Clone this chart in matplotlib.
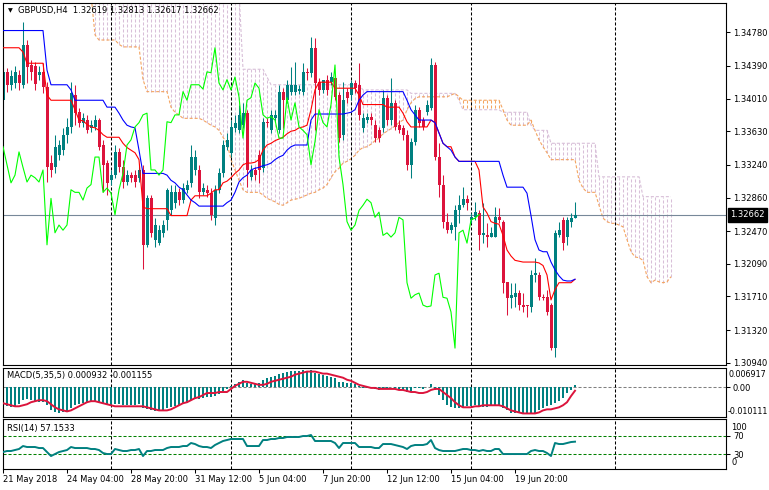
import numpy as np
import matplotlib.pyplot as plt
from matplotlib.transforms import blended_transform_factory

plt.rcParams['font.family'] = ['DejaVu Sans']
plt.rcParams['lines.scale_dashes'] = False

# GBPUSD H4 candles, oldest first (bar 0 is cut by the left border)
opens = [1.3399, 1.3432, 1.3417, 1.3419, 1.3428, 1.3417, 1.3463, 1.3440, 1.3439, 1.3428,
         1.3432, 1.3414, 1.3326, 1.3321, 1.3335, 1.3341, 1.3359, 1.3368, 1.3405, 1.3385,
         1.3373, 1.3376, 1.3367, 1.3368, 1.3376, 1.3347, 1.3326, 1.3306, 1.3312, 1.3339,
         1.3321, 1.3304, 1.3312, 1.3312, 1.3309, 1.3318, 1.3231, 1.3285, 1.3237, 1.3233,
         1.3245, 1.3260, 1.3271, 1.3280, 1.3292, 1.3283, 1.3295, 1.3303, 1.3318, 1.3318,
         1.3292, 1.3295, 1.3291, 1.3262, 1.3295, 1.3314, 1.3345, 1.3338, 1.3367, 1.3364,
         1.3370, 1.3384, 1.3310, 1.3318, 1.3335, 1.3320, 1.3374, 1.3364, 1.3378, 1.3364,
         1.3409, 1.3399, 1.3409, 1.3409, 1.3410, 1.3409, 1.3432, 1.3431, 1.3460, 1.3420,
         1.3411, 1.3423, 1.3420, 1.3425, 1.3405, 1.3359, 1.3409, 1.3405, 1.3419, 1.3417,
         1.3367, 1.3376, 1.3380, 1.3370, 1.3364, 1.3367, 1.3402, 1.3376, 1.3396, 1.3370,
         1.3367, 1.3359, 1.3324, 1.3351, 1.3388, 1.3376, 1.3385, 1.3390, 1.3440, 1.3333,
         1.3301, 1.3258, 1.3248, 1.3252, 1.3271, 1.3277, 1.3284, 1.3260, 1.3263, 1.3268,
         1.3242, 1.3242, 1.3240, 1.3240, 1.3263, 1.3258, 1.3188, 1.3169, 1.3170, 1.3175,
         1.3161, 1.3161, 1.3159, 1.3196, 1.3196, 1.3170, 1.3170, 1.3161, 1.3111, 1.3242,
         1.3260, 1.3240, 1.3258, 1.32619]
highs = [1.3436, 1.3436, 1.3434, 1.3439, 1.3434, 1.3490, 1.3469, 1.3446, 1.3443, 1.3439,
         1.3442, 1.3420, 1.3335, 1.3359, 1.3353, 1.3367, 1.3378, 1.3420, 1.3417, 1.3390,
         1.3384, 1.3382, 1.3376, 1.3382, 1.3378, 1.3353, 1.3330, 1.3318, 1.3347, 1.3344,
         1.3330, 1.3318, 1.3316, 1.3318, 1.3324, 1.3324, 1.3289, 1.3289, 1.3262, 1.3254,
         1.3260, 1.3297, 1.3301, 1.3301, 1.3297, 1.3303, 1.3306, 1.3347, 1.3341, 1.3324,
         1.3303, 1.3301, 1.3297, 1.3301, 1.3320, 1.3353, 1.3361, 1.3376, 1.3382, 1.3394,
         1.3396, 1.3388, 1.3324, 1.3321, 1.3341, 1.3378, 1.3378, 1.3388, 1.3388, 1.3417,
         1.3413, 1.3423, 1.3438, 1.3443, 1.3417, 1.3442, 1.3436, 1.3473, 1.3471, 1.3425,
         1.3423, 1.3428, 1.3432, 1.3428, 1.3409, 1.3420, 1.3413, 1.3423, 1.3423, 1.3442,
         1.3384, 1.3384, 1.3384, 1.3376, 1.3368, 1.3411, 1.3405, 1.3425, 1.3399, 1.3376,
         1.3370, 1.3364, 1.3355, 1.3394, 1.3391, 1.3380, 1.3399, 1.3448, 1.3443, 1.3349,
         1.3312, 1.3268, 1.3258, 1.3277, 1.3289, 1.3298, 1.3289, 1.3268, 1.3281, 1.3271,
         1.3280, 1.3256, 1.3252, 1.3275, 1.3274, 1.3260, 1.3188, 1.3187, 1.3187, 1.3179,
         1.3175, 1.3161, 1.3202, 1.3216, 1.3199, 1.3174, 1.3179, 1.3163, 1.3248, 1.3258,
         1.3263, 1.3263, 1.3268, 1.32813]
lows = [1.3390, 1.3409, 1.3411, 1.3413, 1.3411, 1.3413, 1.3419, 1.3423, 1.3411, 1.3423,
        1.3407, 1.3304, 1.3310, 1.3314, 1.3330, 1.3335, 1.3349, 1.3361, 1.3370, 1.3368,
        1.3368, 1.3361, 1.3362, 1.3364, 1.3341, 1.3292, 1.3289, 1.3301, 1.3309, 1.3316,
        1.3297, 1.3301, 1.3304, 1.3298, 1.3304, 1.3203, 1.3229, 1.3240, 1.3229, 1.3231,
        1.3240, 1.3248, 1.3266, 1.3274, 1.3277, 1.3280, 1.3291, 1.3298, 1.3312, 1.3285,
        1.3289, 1.3287, 1.3260, 1.3254, 1.3291, 1.3310, 1.3341, 1.3333, 1.3362, 1.3361,
        1.3367, 1.3298, 1.3306, 1.3306, 1.3303, 1.3316, 1.3368, 1.3361, 1.3374, 1.3361,
        1.3367, 1.3396, 1.3405, 1.3405, 1.3406, 1.3405, 1.3423, 1.3426, 1.3364, 1.3405,
        1.3407, 1.3405, 1.3417, 1.3399, 1.3351, 1.3353, 1.3396, 1.3399, 1.3407, 1.3376,
        1.3362, 1.3373, 1.3370, 1.3351, 1.3351, 1.3362, 1.3370, 1.3370, 1.3364, 1.3361,
        1.3353, 1.3318, 1.3309, 1.3347, 1.3368, 1.3364, 1.3382, 1.3388, 1.3330, 1.3287,
        1.3251, 1.3245, 1.3245, 1.3237, 1.3256, 1.3275, 1.3271, 1.3256, 1.3260, 1.3225,
        1.3233, 1.3229, 1.3240, 1.3240, 1.3256, 1.3175, 1.3150, 1.3158, 1.3159, 1.3155,
        1.3153, 1.3147, 1.3153, 1.3188, 1.3167, 1.3167, 1.3150, 1.3109, 1.3101, 1.3240,
        1.3225, 1.3231, 1.3252, 1.32617]
closes = [1.3432, 1.3417, 1.3427, 1.3432, 1.3419, 1.3463, 1.3438, 1.3432, 1.3418, 1.3432,
          1.3414, 1.3321, 1.3318, 1.3345, 1.3347, 1.3359, 1.3368, 1.3407, 1.3384, 1.3373,
          1.3378, 1.3364, 1.3370, 1.3376, 1.3345, 1.3324, 1.3303, 1.3312, 1.3339, 1.3321,
          1.3304, 1.3312, 1.3309, 1.3304, 1.3318, 1.3231, 1.3285, 1.3245, 1.3254, 1.3248,
          1.3254, 1.3295, 1.3292, 1.3292, 1.3283, 1.3297, 1.3301, 1.3333, 1.3333, 1.3292,
          1.3297, 1.3291, 1.3266, 1.3295, 1.3314, 1.3347, 1.3353, 1.3368, 1.3373, 1.3382,
          1.3384, 1.3318, 1.3318, 1.3312, 1.3318, 1.3374, 1.3373, 1.3382, 1.3382, 1.3409,
          1.3399, 1.3417, 1.3417, 1.3417, 1.3412, 1.3432, 1.3431, 1.3460, 1.3419, 1.3411,
          1.3423, 1.3411, 1.3426, 1.3403, 1.3355, 1.3399, 1.3402, 1.3419, 1.3413, 1.3382,
          1.3378, 1.3380, 1.3376, 1.3355, 1.3355, 1.3402, 1.3376, 1.3396, 1.3368, 1.3364,
          1.3359, 1.3324, 1.3351, 1.3388, 1.3373, 1.3368, 1.3394, 1.3440, 1.3333, 1.3301,
          1.3258, 1.3248, 1.3254, 1.3271, 1.3277, 1.3284, 1.3280, 1.3263, 1.3269, 1.3242,
          1.3245, 1.3240, 1.3245, 1.3263, 1.3260, 1.3187, 1.3169, 1.3173, 1.3175, 1.3161,
          1.3159, 1.3160, 1.3196, 1.3198, 1.3170, 1.3169, 1.3153, 1.3111, 1.3245, 1.3248,
          1.3233, 1.3260, 1.3262, 1.32662]

# Ichimoku lines as (value, number of bars) runs
tenkan_runs = [(1.3460, 5), (1.3455, 1), (1.3442, 5), (1.3405, 1), (1.3399, 6), (1.3388, 1),
               (1.3376, 1), (1.3375, 1), (1.3371, 1), (1.3368, 1), (1.3367, 1), (1.3364, 1),
               (1.3359, 1), (1.3356, 4), (1.3349, 1), (1.3344, 1), (1.3341, 1), (1.3338, 1),
               (1.3330, 1), (1.3275, 1), (1.3273, 6), (1.3265, 5), (1.3283, 1), (1.3288, 4),
               (1.3291, 1), (1.3295, 2), (1.3303, 1), (1.3305, 1), (1.3309, 1), (1.3314, 1),
               (1.3318, 1), (1.3324, 1), (1.3326, 2), (1.3327, 1), (1.3330, 1), (1.3341, 1),
               (1.3347, 1), (1.3349, 1), (1.3352, 1), (1.3354, 1), (1.3356, 1), (1.3360, 1),
               (1.3363, 1), (1.3364, 1), (1.3367, 1), (1.3368, 1), (1.3370, 1), (1.3388, 1),
               (1.3411, 1), (1.3420, 4), (1.3413, 6), (1.3405, 1), (1.3394, 6), (1.3391, 4),
               (1.3384, 1), (1.3374, 1), (1.3368, 5), (1.3376, 1), (1.3373, 1), (1.3361, 1),
               (1.3349, 1), (1.3345, 2), (1.3333, 1), (1.3328, 5), (1.3318, 1), (1.3275, 1),
               (1.3268, 1), (1.3258, 1), (1.3256, 1), (1.3255, 1), (1.3242, 1), (1.3225, 1),
               (1.3218, 1), (1.3213, 1), (1.3212, 1), (1.3211, 4), (1.3210, 1), (1.3207, 1),
               (1.3196, 1), (1.3167, 1), (1.3179, 1), (1.3187, 4), (1.3191, 1)]
kijun_runs = [(1.3480, 11), (1.3434, 1), (1.3417, 5), (1.3411, 1), (1.3399, 8), (1.3391, 3),
              (1.3384, 1), (1.3376, 1), (1.3370, 1), (1.3368, 1), (1.3367, 1), (1.3341, 1),
              (1.3314, 6), (1.3312, 1), (1.3306, 1), (1.3303, 1), (1.3298, 1), (1.3295, 1),
              (1.3289, 1), (1.3283, 1), (1.3280, 1), (1.3276, 7), (1.3280, 1), (1.3283, 1),
              (1.3292, 1), (1.3304, 1), (1.3309, 1), (1.3312, 1), (1.3318, 1), (1.3320, 1),
              (1.3321, 1), (1.3323, 1), (1.3324, 1), (1.3326, 1), (1.3330, 1), (1.3333, 1),
              (1.3335, 1), (1.3341, 1), (1.3345, 1), (1.3347, 4), (1.3376, 1), (1.3383, 8),
              (1.3384, 1), (1.3385, 1), (1.3388, 1), (1.3399, 1), (1.3405, 1), (1.3409, 10),
              (1.3399, 1), (1.3388, 1), (1.3382, 1), (1.3376, 4), (1.3373, 1), (1.3361, 1),
              (1.3349, 1), (1.3345, 1), (1.3341, 1), (1.3333, 1), (1.3328, 11), (1.3312, 1),
              (1.3298, 5), (1.3291, 1), (1.3265, 1), (1.3237, 1), (1.3225, 1), (1.3223, 2),
              (1.3211, 1), (1.3202, 1), (1.3195, 1), (1.3190, 1), (1.3189, 2), (1.3191, 1)]
cloud_start = 22
span_a_runs = [(1.3521, 1), (1.3475, 1), (1.3469, 5), (1.3464, 1), (1.3461, 5), (1.3423, 1),
               (1.3409, 6), (1.3391, 1), (1.3385, 1), (1.3382, 1), (1.3378, 5), (1.3376, 1),
               (1.3373, 1), (1.3370, 1), (1.3368, 1), (1.3364, 1), (1.3356, 1), (1.3349, 1),
               (1.3330, 1), (1.3318, 1), (1.3306, 1), (1.3295, 1), (1.3292, 4), (1.3289, 1),
               (1.3285, 1), (1.3283, 1), (1.3281, 1), (1.3278, 1), (1.3277, 1), (1.3280, 1),
               (1.3283, 1), (1.3284, 1), (1.3285, 1), (1.3287, 1), (1.3289, 1), (1.3291, 1),
               (1.3292, 1), (1.3295, 1), (1.3297, 1), (1.3301, 1), (1.3309, 1), (1.3316, 1),
               (1.3320, 1), (1.3326, 1), (1.3328, 1), (1.3331, 1), (1.3335, 1), (1.3341, 1),
               (1.3344, 1), (1.3345, 1), (1.3348, 1), (1.3352, 1), (1.3355, 1), (1.3360, 1),
               (1.3363, 1), (1.3366, 1), (1.3369, 1), (1.3373, 1), (1.3376, 1), (1.3388, 1),
               (1.3396, 1), (1.3401, 1), (1.3403, 8), (1.3405, 1), (1.3407, 1), (1.3403, 1),
               (1.3399, 10), (1.3388, 1), (1.3376, 1), (1.3370, 5), (1.3376, 1), (1.3364, 1),
               (1.3353, 1), (1.3345, 1), (1.3338, 1), (1.3330, 7), (1.3306, 1), (1.3297, 1),
               (1.3292, 3), (1.3277, 1), (1.3262, 1), (1.3258, 1), (1.3256, 2), (1.3254, 1),
               (1.3252, 1), (1.3237, 1), (1.3223, 1), (1.3217, 1), (1.3216, 1), (1.3213, 1),
               (1.3194, 1), (1.3187, 1), (1.3190, 1), (1.3188, 1), (1.3187, 1), (1.3188, 1),
               (1.3194, 1)]
span_b_runs = [(1.3525, 38), (1.3435, 6), (1.3426, 1), (1.3417, 23), (1.3411, 12), (1.3407, 12),
               (1.3399, 1), (1.3388, 10), (1.3385, 7), (1.3370, 1), (1.3364, 4), (1.3349, 12),
               (1.3310, 11), (1.3287, 8)]
chikou_shift = 24

macd_hist = [-0.00621, -0.00657, -0.00692, -0.00657, -0.00586, -0.00444, -0.00408, -0.00444, -0.00479, -0.00515,
             -0.00515, -0.00621, -0.00799, -0.00870, -0.00905, -0.00870, -0.00834, -0.00728, -0.00621, -0.00586,
             -0.00550, -0.00515, -0.00479, -0.00479, -0.00515, -0.00586, -0.00621, -0.00621, -0.00586, -0.00586,
             -0.00621, -0.00621, -0.00621, -0.00621, -0.00586, -0.00728, -0.00763, -0.00799, -0.00834, -0.00834,
             -0.00799, -0.00728, -0.00692, -0.00657, -0.00621, -0.00586, -0.00550, -0.00444, -0.00408, -0.00408,
             -0.00373, -0.00337, -0.00337, -0.00302, -0.00231, -0.00124, -0.00053, 0.00053, 0.00124, 0.00195,
             0.00266, 0.00160, 0.00124, 0.00124, 0.00160, 0.00266, 0.00337, 0.00372, 0.00408, 0.00479,
             0.00514, 0.00550, 0.00585, 0.00585, 0.00585, 0.00621, 0.00585, 0.00621, 0.00514, 0.00479,
             0.00443, 0.00408, 0.00372, 0.00337, 0.00195, 0.00195, 0.00160, 0.00160, 0.00124, 0.00053,
             -0.00018, -0.00018, -0.00018, -0.00053, -0.00089, -0.00018, -0.00018, 0.00018, -0.00018, -0.00053,
             -0.00089, -0.00160, -0.00124, -0.00018, -0.00018, -0.00053, 0.00018, 0.00124, -0.00089, -0.00266,
             -0.00444, -0.00621, -0.00692, -0.00728, -0.00728, -0.00692, -0.00657, -0.00657, -0.00621, -0.00692,
             -0.00692, -0.00692, -0.00657, -0.00621, -0.00621, -0.00728, -0.00799, -0.00905, -0.00905, -0.00905,
             -0.00905, -0.00905, -0.00905, -0.00905, -0.00799, -0.00728, -0.00657, -0.00621, -0.00550, -0.00479,
             -0.00373, -0.00195, -0.00089, 0.000932]
macd_signal = [-0.00550, -0.00586, -0.00621, -0.00657, -0.00657, -0.00621, -0.00586, -0.00515, -0.00479, -0.00444,
               -0.00444, -0.00479, -0.00586, -0.00692, -0.00763, -0.00799, -0.00834, -0.00799, -0.00728, -0.00657,
               -0.00586, -0.00515, -0.00479, -0.00479, -0.00515, -0.00550, -0.00586, -0.00621, -0.00657, -0.00657,
               -0.00657, -0.00657, -0.00657, -0.00657, -0.00657, -0.00657, -0.00692, -0.00728, -0.00763, -0.00799,
               -0.00799, -0.00799, -0.00763, -0.00692, -0.00621, -0.00550, -0.00515, -0.00444, -0.00373, -0.00337,
               -0.00266, -0.00195, -0.00195, -0.00195, -0.00160, -0.00160, -0.00160, -0.00053, 0.00053, 0.00124,
               0.00195, 0.00195, 0.00160, 0.00124, 0.00089, 0.00089, 0.00124, 0.00195, 0.00230, 0.00266,
               0.00301, 0.00337, 0.00372, 0.00443, 0.00479, 0.00514, 0.00550, 0.00550, 0.00550, 0.00514,
               0.00479, 0.00479, 0.00443, 0.00408, 0.00372, 0.00337, 0.00266, 0.00230, 0.00160, 0.00089,
               0.00053, 0.00018, -0.00018, -0.00018, -0.00053, -0.00053, -0.00053, -0.00053, -0.00053, -0.00089,
               -0.00089, -0.00124, -0.00160, -0.00160, -0.00195, -0.00195, -0.00160, -0.00089, -0.00053, -0.00053,
               -0.00160, -0.00266, -0.00373, -0.00515, -0.00621, -0.00692, -0.00692, -0.00692, -0.00657, -0.00657,
               -0.00621, -0.00621, -0.00621, -0.00621, -0.00621, -0.00657, -0.00728, -0.00799, -0.00834, -0.00870,
               -0.00905, -0.00905, -0.00905, -0.00905, -0.00870, -0.00799, -0.00763, -0.00763, -0.00728, -0.00692,
               -0.00621, -0.00515, -0.00302, -0.001155]
rsi = [34.9, 37.1, 37.1, 39.2, 41.4, 47.8, 45.7, 45.7, 45.7, 43.5,
       43.5, 34.9, 26.3, 30.6, 34.9, 37.1, 39.2, 45.7, 43.5, 43.5,
       43.5, 43.5, 41.4, 41.4, 39.2, 32.8, 30.6, 30.6, 41.4, 39.2,
       37.1, 37.1, 39.2, 39.2, 41.4, 26.3, 37.1, 37.1, 39.2, 39.2,
       39.2, 43.5, 45.7, 45.7, 45.7, 47.8, 47.8, 54.3, 52.1, 47.8,
       45.7, 45.7, 43.5, 50.0, 54.3, 58.6, 60.7, 62.9, 62.9, 62.9,
       62.9, 47.8, 47.8, 47.8, 47.8, 60.7, 60.7, 62.9, 62.9, 65.0,
       65.0, 67.2, 67.2, 67.2, 67.2, 69.3, 69.3, 71.5, 58.6, 58.6,
       58.6, 58.6, 58.6, 54.3, 43.5, 54.3, 54.3, 54.3, 54.3, 45.7,
       45.7, 45.7, 45.7, 43.5, 43.5, 52.1, 52.1, 52.1, 50.0, 47.8,
       45.7, 41.4, 47.8, 50.0, 50.0, 50.0, 52.1, 60.7, 43.5, 39.2,
       37.1, 37.1, 37.1, 37.1, 39.2, 41.4, 41.4, 39.2, 39.2, 37.1,
       39.2, 37.1, 37.1, 41.4, 41.4, 30.6, 30.6, 30.6, 30.6, 30.6,
       30.6, 30.6, 37.1, 39.2, 37.1, 37.1, 32.8, 26.3, 54.3, 52.1,
       52.1, 54.3, 56.4, 57.1533]

price_ticks = [1.34780, 1.34390, 1.34010, 1.33630, 1.33240, 1.32860,
               1.32470, 1.32090, 1.31710, 1.31320, 1.30940]
date_labels = ["21 May 2018", "24 May 04:00", "28 May 20:00", "31 May 12:00", "5 Jun 04:00",
               "7 Jun 20:00", "12 Jun 12:00", "15 Jun 04:00", "19 Jun 20:00"]
date_bars = [0, 16, 32, 48, 64, 80, 96, 112, 128]
week_bars = [27, 57, 87, 117, 153]

teal = '#008080'
crimson = '#dc143c'
sandy = '#f4a460'
thistle = '#d8bfd8'
dash = (0, (2.2, 1.4))
fs = 6

W, H = 769, 490
fig = plt.figure(figsize=(W / 100, H / 100), dpi=100)


def panel(top, bottom):
    a = fig.add_axes([3 / W, 1 - bottom / H, 723 / W, (bottom - top) / H])
    a.set_xlim(0, 723 / 4)
    for s in a.spines.values():
        s.set_linewidth(0.8)
        s.set_color('black')
    a.tick_params(axis='x', bottom=False, labelbottom=False)
    a.tick_params(axis='y', left=False, labelleft=False, right=True, labelright=True,
                  length=3, width=0.75, pad=2, labelsize=fs, colors='black')
    for k in week_bars:
        a.axvline(k, color='black', lw=0.75, ls=dash, zorder=1.6)
    return a


ax = panel(3, 365.5)
axm = panel(367.5, 416.5)
axr = panel(419, 468.5)

o = np.array(opens)
h = np.array(highs)
l = np.array(lows)
c = np.array(closes)
n = len(c)
x = np.arange(n)
col = np.where(c >= o, teal, crimson)

# cloud
sa = np.repeat([v for v, k in span_a_runs], [k for v, k in span_a_runs])
sb = np.repeat([v for v, k in span_b_runs], [k for v, k in span_b_runs])
m = min(len(sa), len(sb))
sa, sb = sa[:m], sb[:m]
xs = np.arange(cloud_start, cloud_start + m)
ax.vlines(xs, sa, sb, colors=np.where(sb >= sa, thistle, sandy), linestyles=dash, lw=0.75, zorder=1)
ax.plot(xs, sb, color=thistle, lw=0.8, ls=dash, zorder=1.2)
ax.plot(xs, sa, color=sandy, lw=0.8, ls=dash, zorder=1.3)

ax.axhline(c[-1], color='#778899', lw=0.8, zorder=1.5)

# candles
ax.vlines(x, l, h, colors=col, lw=0.75, zorder=2)
ax.bar(x, np.maximum(np.abs(c - o), 0.00009), bottom=np.minimum(o, c), width=0.75,
       color=col, lw=0, zorder=2.1)

tenkan = np.repeat([v for v, k in tenkan_runs], [k for v, k in tenkan_runs])
kijun = np.repeat([v for v, k in kijun_runs], [k for v, k in kijun_runs])
ax.plot(np.arange(len(tenkan)), tenkan, color='red', lw=0.8, zorder=3)
ax.plot(np.arange(len(kijun)), kijun, color='blue', lw=0.8, zorder=3.1)
ax.plot(x[:n - chikou_shift], c[chikou_shift:], color='lime', lw=0.8, zorder=3.2)

ax.set_ylim(1.30908, 1.35120)
ax.set_yticks(price_ticks)
ax.set_yticklabels([f'{v:.5f}' for v in price_ticks])

tr = blended_transform_factory(ax.transAxes, ax.transData)
ax.text(1.006, c[-1], f'{c[-1]:.5f}', transform=tr, ha='left', va='center', color='white',
        fontsize=fs, clip_on=False, zorder=6,
        bbox=dict(boxstyle='square,pad=0.3', fc='black', ec='black'))
ax.text(0.0097, 0.978, '\u25bc', transform=ax.transAxes, fontsize=4.5, ha='center', va='center')
ax.text(0.0207, 0.978, f'GBPUSD,H4  {opens[-1]:.5f} {highs[-1]:.5f} {lows[-1]:.5f} {closes[-1]:.5f}',
        transform=ax.transAxes, fontsize=fs, ha='left', va='center')

# MACD
axm.set_ylim(-0.010111, 0.006917)
axm.axhline(0, color='gray', lw=0.75, ls=dash, zorder=1)
axm.bar(np.arange(len(macd_hist)), macd_hist, width=0.5, color=teal, lw=0, zorder=2)
axm.plot(np.arange(len(macd_signal)), macd_signal, color=crimson, lw=1.4, zorder=3)
axm.set_yticks([0])
axm.set_yticklabels(['0.00'])
axm.text(1.003, 0.847, '0.006917', transform=axm.transAxes, fontsize=5.8, va='center', ha='left')
axm.text(1.002, 0.112, '-0.010111', transform=axm.transAxes, fontsize=5.8, va='center', ha='left')
axm.text(0.0055, 0.827, f'MACD(5,35,5) {macd_hist[-1]:.6f} {macd_signal[-1]:.6f}',
         transform=axm.transAxes, fontsize=fs, va='center', ha='left')

# RSI
axr.set_ylim(-0.5, 105.9)
for lev in (70, 30):
    axr.axhline(lev, color='#008000', lw=0.75, ls=dash, zorder=1)
axr.plot(np.arange(len(rsi)), rsi, color=teal, lw=1.4, zorder=3)
axr.set_yticks([70, 30])
axr.set_yticklabels(['70', '30'])
axr.text(1.0075, 0.838, '100', transform=axr.transAxes, fontsize=fs, va='center', ha='left')
axr.text(1.0075, 0.115, '0', transform=axr.transAxes, fontsize=fs, va='center', ha='left')
axr.text(0.0055, 0.798, f'RSI(14) {rsi[-1]:.4f}', transform=axr.transAxes, fontsize=fs,
         va='center', ha='left')
axr.set_xticks(date_bars)
axr.set_xticklabels(date_labels)
axr.tick_params(axis='x', bottom=True, labelbottom=True, length=3, width=0.75, pad=1.5,
                labelsize=fs, colors='black')
for lab in axr.get_xticklabels():
    lab.set_ha('left')

fig.savefig('out.png', dpi=100)
